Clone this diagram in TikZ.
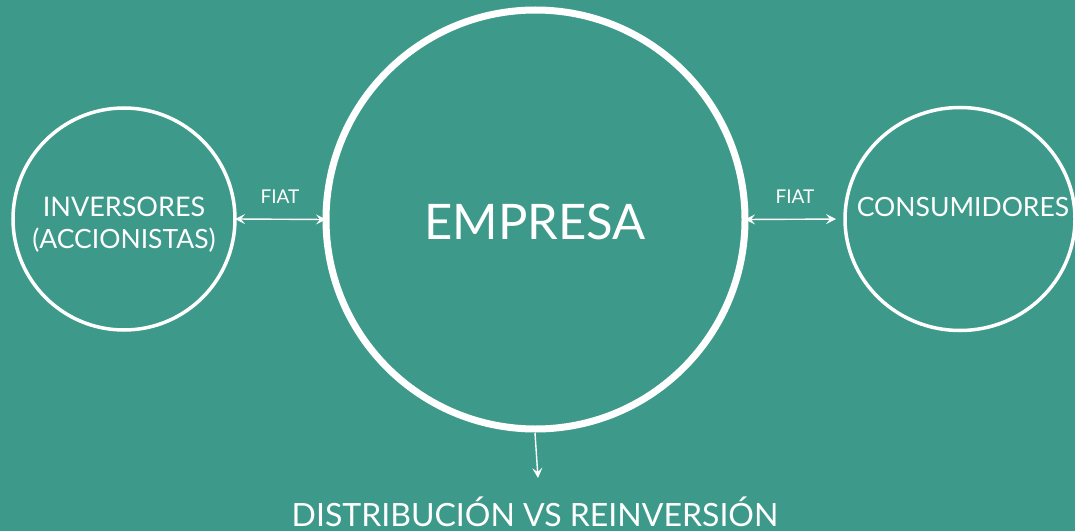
\documentclass[tikz,border=0pt]{standalone}
\usepackage{fontspec}
\setmainfont{Lato}
\usetikzlibrary{arrows.meta,shapes.geometric}
\definecolor{bg}{RGB}{61,154,138}
\begin{document}
\begin{tikzpicture}[x=1pt,y=1pt,
  ring/.style={draw=white,circle,inner sep=0pt,outer sep=0pt},
  lbl/.style={text=white,inner sep=0pt,anchor=base},
  tip/.style={Stealth[length=10pt,width=10pt,inset=4pt]},
  conn/.style={draw=white,line width=1.4pt,{Stealth[length=10pt,width=10pt,inset=4pt]}-{Stealth[length=10pt,width=10pt,inset=4pt]}}
]
\fill[bg] (0,0) rectangle (1075,531);
\useasboundingbox (0,0) rectangle (1075,531);
% circles (y = 531 - y_img)
\node[ring,line width=3.5pt,minimum size=222pt] (inv) at (124,312) {};
\node[ring,line width=7pt,minimum size=419pt] (emp) at (535.5,311.5) {};
\node[draw=white,ellipse,inner sep=0pt,outer sep=0pt,line width=3.5pt,minimum width=230pt,minimum height=223pt] (cons) at (960,312) {};
% texts
\node[lbl,font=\fontsize{27}{32}\selectfont] (t1) at (124,314.5) {INVERSORES};
\node[lbl,font=\fontsize{26.5}{32}\selectfont] (t2) at (124,282.5) {(ACCIONISTAS)};
\node[lbl,font=\fontsize{49}{56}\selectfont] (t3) at (535,292) {EMPRESA};
\node[lbl,font=\fontsize{26.5}{32}\selectfont] (t4) at (963,314.5) {CONSUMIDORES};
\node[lbl,font=\fontsize{19}{23}\selectfont] (f1) at (280,328) {FIAT};
\node[lbl,font=\fontsize{19}{23}\selectfont] (f2) at (795,328) {FIAT};
\node[lbl,font=\fontsize{32}{38}\selectfont] (t5) at (535,5) {DISTRIBUCIÓN VS REINVERSIÓN};
% connectors
\coordinate (d1) at (535,98);
\coordinate (d2) at (538,53);
\draw[conn] (inv.east) -- (emp.west);
\draw[conn,shorten >=9pt] (emp.east) -- (cons.west);
\draw[draw=white,line width=1.4pt,-{Stealth[length=10pt,width=10pt,inset=4pt]}] (d1) -- (d2);
\end{tikzpicture}
\end{document}
